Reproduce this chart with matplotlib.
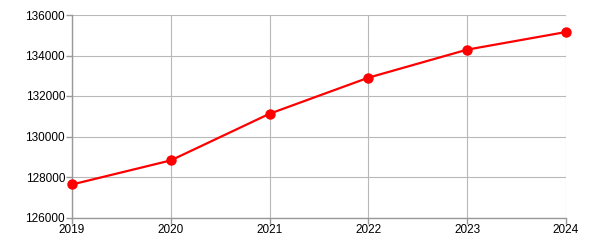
import matplotlib
matplotlib.use('Agg')
import matplotlib.pyplot as plt

# data
years = [2019, 2020, 2021, 2022, 2023, 2024]
values = [127630, 128820, 131125, 132905, 134290, 135160]
yticks = [126000, 128000, 130000, 132000, 134000, 136000]

plt.rcParams['font.family'] = ['Liberation Sans', 'DejaVu Sans']

fig = plt.figure(figsize=(6, 2.5), dpi=100)
ax = fig.add_axes([72 / 600, 1 - 217.5 / 250, (566 - 72) / 600, (217.5 - 15) / 250])

ax.plot(years, values, color='#ff0000', linewidth=1.6, marker='o', markersize=6.5,
        clip_on=False, zorder=3)

ax.set_xlim(years[0], years[-1])
ax.set_ylim(yticks[0], yticks[-1])
ax.set_xticks(years)
ax.set_yticks(yticks)
ax.set_xticklabels([str(y) for y in years])
ax.set_yticklabels([str(v) for v in yticks])

ax.grid(True, color='#b8b8b8', linewidth=0.8)
ax.set_axisbelow(True)
for side in ['top', 'right']:
    ax.spines[side].set_visible(False)
for side in ['left', 'bottom']:
    ax.spines[side].set_color('#999999')
    ax.spines[side].set_linewidth(1)
ax.tick_params(axis='both', length=4, width=1, color='#999999',
               labelsize=8.5, labelcolor='black', pad=1)

fig.savefig('out.png', dpi=100)
